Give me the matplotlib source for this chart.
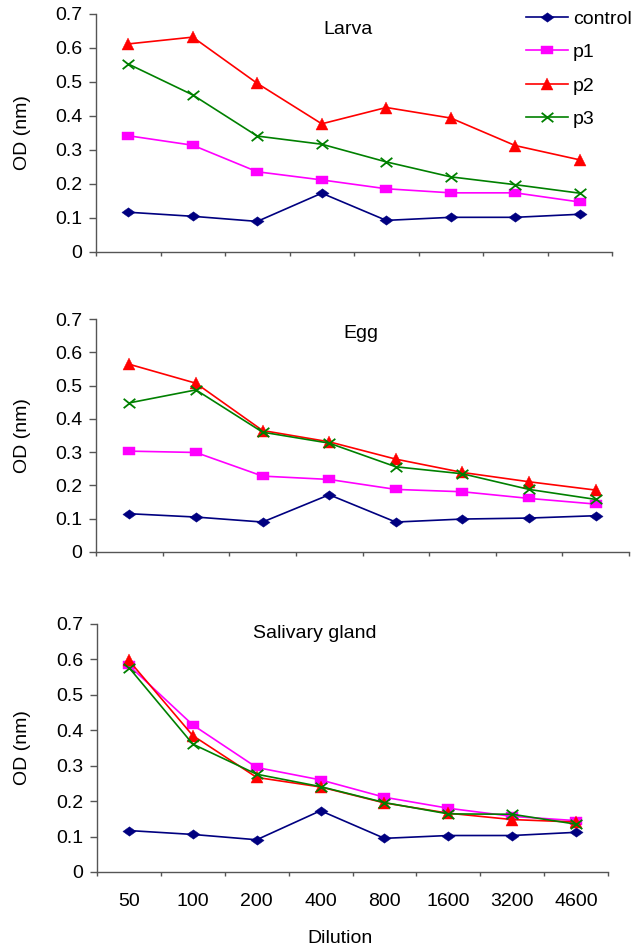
import numpy as np
import matplotlib.pyplot as plt
from matplotlib.path import Path

plt.rcParams['font.family'] = ['Liberation Sans', 'DejaVu Sans']

dilutions = ["50", "100", "200", "400", "800", "1600", "3200", "4600"]
series = ["control", "p1", "p2", "p3"]

# Larva
larva_control = [0.117, 0.105, 0.090, 0.173, 0.093, 0.102, 0.102, 0.111]
larva_p1 = [0.342, 0.314, 0.236, 0.212, 0.186, 0.174, 0.174, 0.147]
larva_p2 = [0.612, 0.632, 0.496, 0.377, 0.425, 0.394, 0.313, 0.271]
larva_p3 = [0.553, 0.462, 0.341, 0.317, 0.265, 0.221, 0.198, 0.173]

# Egg
egg_control = [0.115, 0.105, 0.090, 0.172, 0.090, 0.099, 0.102, 0.109]
egg_p1 = [0.303, 0.299, 0.228, 0.218, 0.188, 0.181, 0.161, 0.144]
egg_p2 = [0.564, 0.507, 0.365, 0.331, 0.279, 0.239, 0.211, 0.186]
egg_p3 = [0.448, 0.487, 0.360, 0.327, 0.256, 0.235, 0.188, 0.158]

# Salivary gland
sg_control = [0.117, 0.106, 0.091, 0.173, 0.095, 0.103, 0.103, 0.112]
sg_p1 = [0.583, 0.415, 0.295, 0.260, 0.211, 0.180, 0.157, 0.145]
sg_p2 = [0.597, 0.385, 0.267, 0.240, 0.195, 0.166, 0.148, 0.141]
sg_p3 = [0.577, 0.361, 0.276, 0.241, 0.196, 0.164, 0.163, 0.135]

panels = [
    ("Larva", [larva_control, larva_p1, larva_p2, larva_p3]),
    ("Egg", [egg_control, egg_p1, egg_p2, egg_p3]),
    ("Salivary gland", [sg_control, sg_p1, sg_p2, sg_p3]),
]

colors = ["#000080", "#FF00FF", "#FF0000", "#008000"]

# the original chart is a bit stretched sideways, so are its markers
wide_diamond = Path([(-1.4, 0), (0, 1), (1.4, 0), (0, -1), (-1.4, 0)], closed=True)
wide_square = Path([(-1.5, -1), (1.5, -1), (1.5, 1), (-1.5, 1), (-1.5, -1)], closed=True)
wide_x = Path([(-1.25, -1), (1.25, 1), (-1.25, 1), (1.25, -1)],
              [Path.MOVETO, Path.LINETO, Path.MOVETO, Path.LINETO])
markers = [wide_diamond, wide_square, "^", wide_x]
msizes = [9.5, 9, 8, 8.4]

# axes boxes in pixels (left, right, top, bottom) of a 636x949 figure
W, H = 636, 949
boxes = [(96, 612, 14, 252), (96, 629, 319, 552), (97, 608, 624, 872)]
title_pos = [(348, 30), (361, 334), (315, 633)]

fs = 14
fig = plt.figure(figsize=(W / 100, H / 100), dpi=100)

x = np.arange(len(dilutions))
for i, ((name, vals), (l, r, t, b)) in enumerate(zip(panels, boxes)):
    ax = fig.add_axes([l / W, 1 - b / H, (r - l) / W, (b - t) / H])
    for v, c, m, ms, lab in zip(vals, colors, markers, msizes, series):
        ax.plot(x, v, color=c, marker=m, markersize=ms, lw=1.2,
                markeredgewidth=1.3 if m is wide_x else 0.3, label=lab)
    ax.set_xlim(-0.5, len(dilutions) - 0.5)
    ax.set_ylim(0, 0.7)
    ax.set_yticks(np.arange(0, 0.71, 0.1))
    ax.set_yticklabels(["0"] + ["%.1f" % v for v in np.arange(0.1, 0.71, 0.1)])
    ax.set_xticks(np.arange(-0.5, len(dilutions), 1.0))
    ax.set_xticklabels([])
    ax.set_xticks(x, minor=True)
    if i == 2:
        ax.set_xticklabels(dilutions, minor=True)
        ax.set_xlabel("Dilution", fontsize=fs)
        ax.xaxis.set_label_coords((340 - l) / (r - l), -(930 - b) / (b - t))
    ax.tick_params(axis="x", which="minor", length=0, pad=15, labelsize=fs)
    ax.tick_params(axis="x", which="major", length=3, width=1, color="#555555")
    ax.tick_params(axis="y", length=5, width=1, pad=5, labelsize=fs, color="#555555")
    for s in ["top", "right"]:
        ax.spines[s].set_visible(False)
    for s in ["left", "bottom"]:
        ax.spines[s].set_color("#555555")
        ax.spines[s].set_linewidth(1)
    ax.set_ylabel("OD (nm)", fontsize=fs)
    ax.yaxis.set_label_coords((31 - l) / (r - l), 0.5)
    tx, ty = title_pos[i]
    fig.text(tx / W, 1 - ty / H, name, fontsize=fs, ha="center", va="center")
    if i == 0:
        handles, labels = ax.get_legend_handles_labels()

fig.legend(handles, labels, loc="upper left", bbox_to_anchor=(526 / W, 1 - 10 / H),
           frameon=False, fontsize=fs, handlelength=2.15, handletextpad=0.26,
           labelspacing=0.82, borderpad=0, borderaxespad=0)

fig.savefig("out.png", dpi=100)
